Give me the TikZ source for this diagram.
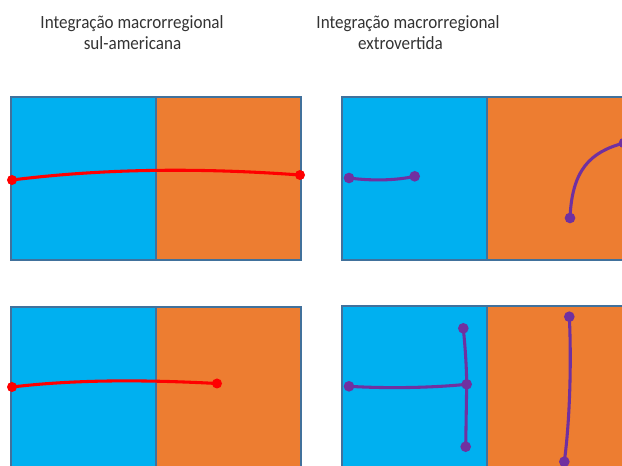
\documentclass[tikz,border=0pt]{standalone}
\usepackage{fontspec}
\setmainfont{Carlito}[FakeStretch=0.915]
\definecolor{blueP}{HTML}{00B0F0}
\definecolor{orangeP}{HTML}{ED7D31}
\definecolor{borderP}{HTML}{41719C}
\definecolor{redL}{HTML}{FF0000}
\definecolor{purpleL}{HTML}{7030A0}
\begin{document}
\begin{tikzpicture}[x=0.75pt,y=-0.75pt,
  bluebox/.style={fill=blueP,draw=borderP,line width=0.9pt},
  orangebox/.style={fill=orangeP,draw=borderP,line width=0.9pt},
  reddot/.style={circle,fill=redL,inner sep=0pt,minimum size=7.5pt},
  purpledot/.style={circle,fill=purpleL,inner sep=0pt,minimum size=8pt},
  redline/.style={draw=redL,line width=2.3pt},
  purpleline/.style={draw=purpleL,line width=2.3pt},
  title/.style={font=\fontsize{14pt}{16.5pt}\selectfont,text=black!80,inner sep=0pt,anchor=base}]
\useasboundingbox (0,0) rectangle (622,466);
\clip (0,0) rectangle (622,466);
% titles
\node[title] (t1a) at (132,29) {Integração macrorregional};
\node[title] (t1b) at (132.5,50) {sul-americana};
\node[title] (t2a) at (408,29) {Integração macrorregional};
\node[title] (t2b) at (400.5,50) {extrovertida};
% panels
\path[bluebox] (11,97) rectangle (156,260);
\path[orangebox] (156,97) rectangle (301,260);
\path[bluebox] (11,307) rectangle (156,470);
\path[orangebox] (156,307) rectangle (301,470);
\path[bluebox] (342,97) rectangle (487,260);
\path[orangebox] (487,97) rectangle (632,260);
\path[bluebox] (342,306) rectangle (487,470);
\path[orangebox] (487,306) rectangle (632,470);
% top-left
\node[reddot] (a1) at (12,180) {};
\node[reddot] (a2) at (300,175) {};
\path[redline] (a1.center) .. controls (108,168) and (204,168) .. (a2.center);
% bottom-left
\node[reddot] (b1) at (12,387) {};
\node[reddot] (b2) at (217,383.5) {};
\path[redline] (b1.center) .. controls (80,379) and (150,380) .. (b2.center);
% top-right
\node[purpledot] (c1) at (349,178) {};
\node[purpledot] (c2) at (414.7,176.3) {};
\path[purpleline] (c1.center) .. controls (370,180.8) and (395,180.8) .. (c2.center);
\node[purpledot] (c3) at (570,218) {};
\node[purpledot] (c4) at (624,143) {};
\path[purpleline] (c3.center) .. controls (572,170) and (590,152) .. (c4.center);
% bottom-right
\node[purpledot] (d1) at (349,386.3) {};
\node[purpledot] (d2) at (466.7,384.3) {};
\node[purpledot] (d3) at (463.3,328.3) {};
\node[purpledot] (d4) at (465.7,446.7) {};
\path[purpleline] (d1.center) .. controls (385,388.5) and (430,388) .. (d2.center);
\path[purpleline] (d3.center) .. controls (465,345) and (466.5,365) .. (d2.center);
\path[purpleline] (d2.center) -- (d4.center);
\node[purpledot] (d5) at (569.3,316.7) {};
\node[purpledot] (d6) at (564.3,461.7) {};
\path[purpleline] (d5.center) .. controls (571.5,360) and (570,420) .. (d6.center);
\end{tikzpicture}
\end{document}
